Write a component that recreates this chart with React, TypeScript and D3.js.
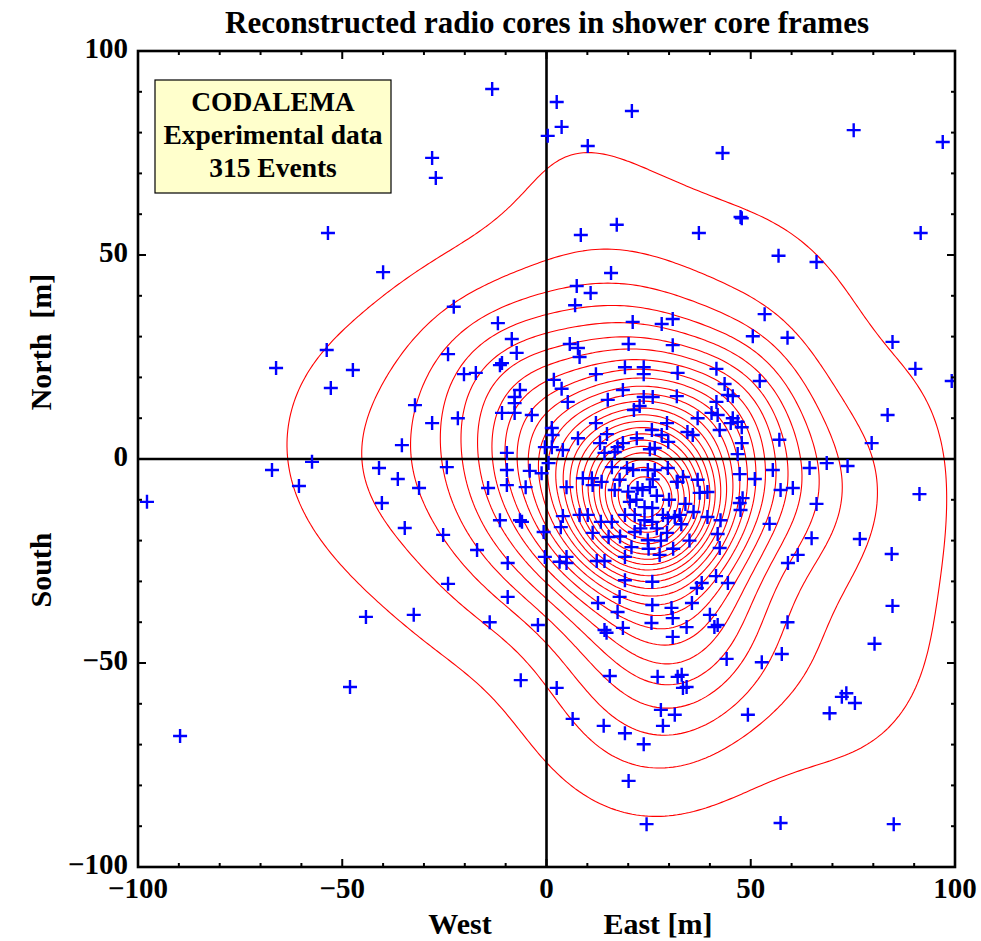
import React, { useMemo } from "react";
import * as d3 from "d3";

// East [m] / North [m] of reconstructed radio cores;
// the last group lies outside the ±100 m frame (inferred from contours leaving the frame)
const east: number[] = [
  -13.3, 2.5, 3.7, 0.3, 20.9, 10.1, 43.1, 75.2, 97.0, -28.0, -27.1, 17.2, 8.4, 47.8, 47.5, 37.3, 91.6, -53.5,
  -40.0, -53.8, -66.2, -47.4, -52.8, -35.4,
  15.8, 7.4, 10.8, 7.0, -22.7, -11.9, 21.1, 28.2, 30.9, -8.5, -7.3, -24.1, -10.9, -11.4, 5.7, 7.7, 8.1, 20.1, 30.9,
  -20.2, -17.3, 12.1, 19.2, 23.8, 23.8, 32.1, 1.8, 3.7, 5.2, 18.7, 15.0, 23.8, 26.0, 31.9, 22.8, 21.4,
  -6.5, -7.8, -7.8, -10.9, -7.8, -3.6, -32.2, -28.0, -21.7, 12.1, 1.3, 1.5, 7.7, 14.8, 13.1, 17.4, 18.7, 22.1,
  25.8, 28.2, 29.5, 29.8, 26.5, 25.3, 1.3, 4.0, -9.7, 14.2, 16.7,
  56.8, 66.1, 53.4, 50.5, 59.0, 84.7, 90.3, 99.2, 41.6, 43.6, 44.4, 45.6, 52.2, 41.6, 40.4, 41.9, 37.0, 45.6,
  45.1, 46.8, 42.4, 47.8, 34.5, 35.8, 47.8, 57.0, 79.6, 83.5, 46.8,
  -97.8, -67.2, -60.6, -57.4, -41.0, -36.4, -40.3, -34.7, -44.2, -32.5, -89.7, -48.1,
  -24.4, -31.2, -9.7, -4.1, -9.7, -14.3, -5.1, -11.4, -6.5, -6.0, -25.3, -17.0, -9.5, -0.7, -0.4, 3.2, 4.9, 4.9,
  3.5, 4.0, -24.1, -9.5, -13.9, -2.1, 4.9, 8.1, 10.1, 11.3, 15.2, 13.3, 16.0, 8.9, 11.1, 11.3, 13.5, 16.0, 17.9,
  16.7, 19.7, 21.2, 22.3, 23.5, 25.3, 24.8, 26.5, 29.7, 31.9, 20.4, 24.0, 25.9, 19.2, 21.6, 24.0, 25.9, 28.5,
  29.7, 31.4, 21.6, 24.8, 29.5, 20.8, 19.2, 27.7, 19.2, 25.9, 17.9, 12.6, 17.4, 25.9, 30.6, 14.2, 14.7, 18.7,
  25.7, 30.9, 30.9, 12.3, 14.2, -0.4, 0.5, -1.2,
  33.4, 32.1, 37.0, 37.5, 39.4, 47.3, 51.0, 55.4, 64.4, 68.6, 73.7, 57.3, 60.3, 48.0, 47.3, 47.5, 66.1, 91.3,
  32.6, 39.4, 42.6, 41.9, 42.4, 54.6, 64.9, 76.7, 61.5, 59.1, 84.5, 41.5, 38.0, 36.8, 44.4, 35.6, 40.0, 41.1,
  41.9, 34.3, 59.0, 84.7, 80.3, 57.6, 52.7, 44.1,
  -6.3, 2.5, 6.4, 15.5, 14.0, 19.2, 23.8, 20.1, 24.5, 27.2, 32.1, 28.0, 31.4, 28.5,
  33.1, 33.4, 34.3, 49.3, 69.3, 72.3, 73.4, 75.5, 57.3, 85.0,
  22.0, 27.0, 30.0, 23.0, 27.0, 33.0, 28.0, 25.0, 31.0, 35.0, 18.0, 20.0, 34.0, 26.0, 36.0,
  108, 112, 105, 118, 125, 104, 112, 60, 85, 30, 100, 45, 115, 75, 130, 103,
];
const north: number[] = [
  90.7, 87.5, 81.4, 79.2, 85.3, 76.7, 75.0, 80.6, 77.7, 73.8, 68.9, 57.4, 54.9, 59.0, 59.3, 55.4, 55.4, 55.4,
  45.8, 26.7, 22.3, 21.8, 17.4, 3.4,
  45.6, 42.4, 40.7, 37.7, 37.3, 33.3, 33.6, 33.1, 34.3, 29.4, 26.0, 25.7, 23.5, 23.0, 28.2, 27.2, 25.0, 28.2, 27.9,
  20.8, 21.1, 20.8, 22.5, 22.5, 20.8, 21.1, 19.4, 17.2, 14.0, 16.9, 14.5, 15.2, 15.2, 15.4, 13.0, 12.0,
  16.9, 15.2, 13.7, 11.3, 11.3, 10.8, 13.2, 8.8, 10.0, 8.8, 7.6, 5.9, 5.1, 6.1, 3.9, 2.9, 3.9, 5.1,
  7.1, 5.9, 8.8, 4.2, 2.7, 2.4, 2.9, 2.2, 1.5, 1.5, 1.7,
  49.8, 48.3, 35.5, 30.1, 29.7, 28.7, 22.1, 19.1, 22.1, 18.4, 15.7, 15.4, 19.1, 14.0, 11.3, 10.8, 10.0, 10.0,
  8.8, 9.1, 7.1, 7.8, 6.6, 5.9, 3.9, 4.7, 3.9, 10.8, 1.2,
  -10.5, -2.7, -6.6, -0.7, -2.2, -4.9, -10.8, -16.9, -38.7, -38.2, -67.9, -55.9,
  -2.0, -7.1, -2.7, -2.9, -6.4, -7.1, -6.9, -15.0, -15.0, -15.4, -18.6, -22.3, -25.5, -17.9, -24.0, -25.2, -24.0, -25.5,
  -16.7, -14.0, -30.6, -33.8, -40.0, -40.7, -6.9, -13.7, -13.7, -18.1, -19.1, -15.4, -15.4, -4.7, -4.7, -6.4, -5.6, -2.0, -5.1,
  -7.6, -2.2, -2.7, -7.1, -7.6, -6.9, -2.7, -2.7, -2.2, -5.6, -10.5, -11.8, -12.0, -13.7, -13.7, -15.0, -15.4, -13.7,
  -14.5, -14.2, -17.9, -19.9, -18.1, -21.6, -24.0, -23.5, -29.7, -30.1, -33.8, -35.3, -37.5, -35.8, -36.5, -41.9, -42.6, -41.4,
  -40.2, -43.6, -39.0, -25.0, -25.0, 2.9, -1.0, -3.5,
  -4.4, -5.6, -5.1, -8.3, -8.1, -3.7, -4.9, -2.7, -2.2, -1.0, -1.7, -7.6, -7.1, -9.6, -10.8, -12.5, -11.0, -8.6,
  -13.7, -14.2, -15.0, -18.4, -21.8, -15.9, -19.4, -19.6, -23.5, -25.5, -23.3, -28.7, -30.4, -31.6, -30.4, -35.3, -38.2, -41.2,
  -40.7, -41.2, -40.0, -36.0, -45.3, -47.8, -49.8, -49.0,
  -54.2, -56.1, -63.7, -53.2, -65.4, -67.2, -69.9, -78.9, -89.5, -53.4, -53.4, -61.5, -62.7, -65.4,
  -52.9, -56.1, -55.9, -62.7, -62.3, -58.3, -57.4, -59.8, -89.2, -89.5,
  -10.0, -9.0, -10.0, -17.0, -17.0, -16.0, -20.0, -22.0, -22.0, -20.0, -19.0, -8.0, -11.0, -5.0, -13.0,
  -15, -45, -70, 5, -30, 40, 68, -108, -112, -110, -105, -125, -95, -130, -60, -40,
];

const axisTicks = [-100, -50, 0, 50, 100];
const minorTicks = d3.range(-100, 101, 10);
const titleText = "Reconstructed radio cores in shower core frames";
const legendLines = ["CODALEMA", "Experimental data", "315 Events"];
const contourCount = 24;
const pilotBandwidth = 14; // m
const sensitivity = 0.28;
const gridStep = 1; // m
const gridHalf = 135; // m

const FONT = "'Liberation Serif', 'Times New Roman', 'DejaVu Serif', serif";

function fmt(v: number) {
  return v < 0 ? "\u2212" + Math.abs(v) : String(v);
}

// adaptive-bandwidth Gaussian kernel density on a regular grid
function adaptiveDensity(px: number[], py: number[]) {
  const n = px.length;
  const h0 = pilotBandwidth;
  const pilot = new Array(n).fill(0);
  for (let i = 0; i < n; i++) {
    let s = 0;
    for (let j = 0; j < n; j++) {
      const dx = px[i] - px[j], dy = py[i] - py[j];
      s += Math.exp(-(dx * dx + dy * dy) / (2 * h0 * h0));
    }
    pilot[i] = s / n;
  }
  const g = Math.exp(d3.mean(pilot.map((v) => Math.log(v))) as number);
  const hs = pilot.map((v) => h0 * Math.pow(v / g, -sensitivity));
  const nx = Math.round((2 * gridHalf) / gridStep) + 1;
  const values = new Float64Array(nx * nx);
  for (let k = 0; k < n; k++) {
    const h = hs[k];
    const inv = 1 / (2 * h * h);
    const w = 1 / (h * h);
    const cut = 4 * h;
    const i0 = Math.max(0, Math.floor((px[k] - cut + gridHalf) / gridStep));
    const i1 = Math.min(nx - 1, Math.ceil((px[k] + cut + gridHalf) / gridStep));
    const j0 = Math.max(0, Math.floor((gridHalf - (py[k] + cut)) / gridStep));
    const j1 = Math.min(nx - 1, Math.ceil((gridHalf - (py[k] - cut)) / gridStep));
    for (let j = j0; j <= j1; j++) {
      const gy = gridHalf - j * gridStep;
      const dy = gy - py[k];
      for (let i = i0; i <= i1; i++) {
        const gx = -gridHalf + i * gridStep;
        const dx = gx - px[k];
        values[i + j * nx] += w * Math.exp(-(dx * dx + dy * dy) * inv);
      }
    }
  }
  return { values, nx };
}

export default function App() {
  const W = 981, H = 941;
  const L = 138, R = 955, T = 51, B = 867;
  const x = d3.scaleLinear().domain([-100, 100]).range([L, R]);
  const y = d3.scaleLinear().domain([-100, 100]).range([B, T]);
  const pts = east.map((e, i) => [e, north[i]] as [number, number]);
  const shown = pts.filter((p) => Math.abs(p[0]) <= 100 && Math.abs(p[1]) <= 100);

  const paths = useMemo(() => {
    const { values, nx } = adaptiveDensity(east, north);
    const max = d3.max(values) as number;
    const th = d3.range(1, contourCount + 1).map((k) => (max * k) / (contourCount + 1));
    const gen = d3.contours().size([nx, nx]).thresholds(th);
    const tr = d3.geoTransform({
      point(gx: number, gy: number) {
        const X = -gridHalf + (gx - 0.5) * gridStep;
        const Y = gridHalf - (gy - 0.5) * gridStep;
        (this as any).stream.point(x(X), y(Y));
      },
    });
    const geo = d3.geoPath(tr);
    return gen(Array.from(values)).map((c) => geo(c as any) || "");
  }, []);

  return (
    <svg width={W} height={H} style={{ position: "absolute", left: 0, top: 0, background: "#fff" }}>
      <defs>
        <clipPath id="plotClip">
          <rect x={L} y={T} width={R - L} height={B - T} />
        </clipPath>
      </defs>
      <rect x={0} y={0} width={W} height={H} fill="#fff" />
      <g clipPath="url(#plotClip)">
        {paths.map((d, i) => (
          <path key={i} d={d} fill="none" stroke="#ff0000" strokeWidth={1.1} />
        ))}
        <line x1={x(0)} x2={x(0)} y1={T} y2={B} stroke="#000" strokeWidth={2.6} />
        <line x1={L} x2={R} y1={y(0)} y2={y(0)} stroke="#000" strokeWidth={2.6} />
        {shown.map((p, i) => (
          <path
            key={i}
            d={`M${x(p[0]) - 7},${y(p[1])}H${x(p[0]) + 7}M${x(p[0])},${y(p[1]) - 7}V${y(p[1]) + 7}`}
            stroke="#0000ff"
            strokeWidth={2.4}
            fill="none"
          />
        ))}
      </g>
      {/* ticks */}
      <g stroke="#000" strokeWidth={2}>
        {minorTicks.map((t) => {
          const len = t % 50 === 0 ? 8 : 4;
          return (
            <g key={t}>
              <line x1={x(t)} x2={x(t)} y1={B} y2={B - len} />
              <line x1={x(t)} x2={x(t)} y1={T} y2={T + len} />
              <line x1={L} x2={L + len} y1={y(t)} y2={y(t)} />
              <line x1={R} x2={R - len} y1={y(t)} y2={y(t)} />
            </g>
          );
        })}
      </g>
      <rect x={L} y={T} width={R - L} height={B - T} fill="none" stroke="#000" strokeWidth={2.6} />
      {/* tick labels */}
      <g fontFamily={FONT} fontWeight="bold" fontSize={29} fill="#000">
        {axisTicks.map((t) => (
          <text key={"x" + t} x={x(t)} y={B + 31} textAnchor="middle">
            {fmt(t)}
          </text>
        ))}
        {axisTicks.map((t) => (
          <text key={"y" + t} x={L - 10} y={y(t) + 7} textAnchor="end">
            {fmt(t)}
          </text>
        ))}
      </g>
      {/* axis labels */}
      <g fontFamily={FONT} fontWeight="bold" fontSize={30} fill="#000">
        <text x={460} y={934} textAnchor="middle">West</text>
        <text x={658} y={934} textAnchor="middle">East [m]</text>
        <text transform={`translate(51,342) rotate(-90)`} textAnchor="middle">{"North\u00a0\u00a0[m]"}</text>
        <text transform={`translate(51,570) rotate(-90)`} textAnchor="middle">South</text>
      </g>
      <text x={547} y={33} textAnchor="middle" fontFamily={FONT} fontWeight="bold" fontSize={31}>
        {titleText}
      </text>
      {/* legend box */}
      <rect x={155} y={80} width={236} height={113} fill="#ffffcc" stroke="#000" strokeWidth={1.2} />
      <g fontFamily={FONT} fontWeight="bold" fontSize={27.5} textAnchor="middle">
        {legendLines.map((s, i) => (
          <text key={i} x={273} y={111 + i * 33}>
            {s}
          </text>
        ))}
      </g>
    </svg>
  );
}
